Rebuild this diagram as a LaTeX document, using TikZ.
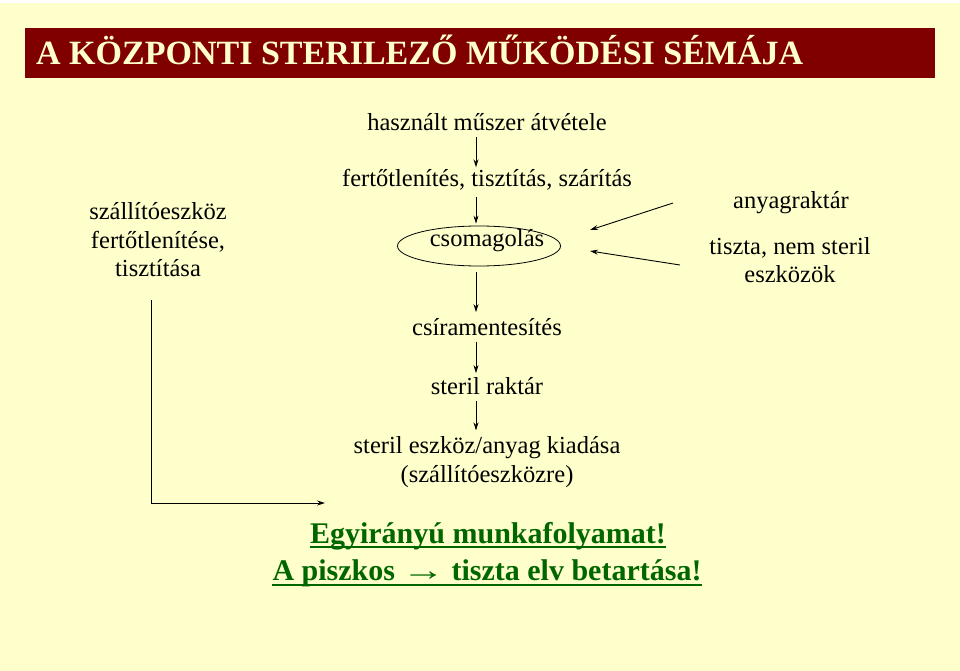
\documentclass[tikz,border=0pt]{standalone}
\usepackage{graphicx}
\usepackage{fontspec}
\setmainfont{Liberation Serif}
\usetikzlibrary{arrows.meta,shapes.geometric,calc}
\definecolor{bg}{HTML}{FFFFCC}
\definecolor{barred}{HTML}{800000}
\definecolor{grn}{HTML}{006600}
\begin{document}
\begin{tikzpicture}[x=1pt,y=-1pt,
  txt/.style={font=\fontsize{24.5}{28.5}\selectfont, inner sep=0pt, align=center},
  gtxt/.style={font=\bfseries\fontsize{30}{36}\selectfont, text=grn, inner sep=0pt, anchor=base, text height=20pt, text depth=6pt},
  arr/.style={-{Stealth[length=8pt,width=5pt]}, line width=0.9pt},
  uline/.style={grn, line width=2pt}]
\fill[bg] (0,0) rectangle (960,671);
\useasboundingbox (0,0) rectangle (960,671);
\fill[white] (0,0) rectangle (960,3);
% title bar
\node[fill=barred, minimum width=910pt, minimum height=50pt, anchor=north west, inner sep=0pt] (bar) at (25,28) {};
\node[anchor=base west, inner sep=0pt, text=bg, font=\bfseries\fontsize{34}{40}\selectfont] (title) at (36,65) {A KÖZPONTI STERILEZŐ MŰKÖDÉSI SÉMÁJA};
% main column
\coordinate (ax) at (476,0);
\node[txt] (n1) at (487,122) {használt műszer átvétele};
\node[txt] (n2) at (487,180) {fertőtlenítés, tisztítás, szárítás};
\node[draw, ellipse, line width=0.8pt, minimum width=163pt, minimum height=40pt] (pack) at (479,246) {};
\node[txt] (packtxt) at (487,241) {csomagolás};
\node[txt] (n4) at (487,327) {csíramentesítés};
\node[txt] (n5) at (487,386) {steril raktár};
\node[txt] (n6) at (487,462) {steril eszköz/anyag kiadása\\(szállítóeszközre)};
\draw[arr, shorten <=6pt, shorten >=2pt] (n1.south -| ax) -- (n2.north -| ax);
\draw[arr, shorten <=6pt, shorten >=2pt] (n2.south -| ax) -- (pack.north -| ax);
\draw[arr, shorten <=6pt, shorten >=6pt] (pack.south -| ax) -- (n4.north -| ax);
\draw[arr, shorten <=6pt, shorten >=4pt] (n4.south -| ax) -- (n5.north -| ax);
\draw[arr, shorten <=6pt, shorten >=6pt] (n5.south -| ax) -- (n6.north -| ax);
% left
\node[txt] (left) at (158,240) {szállítóeszköz\\fertőtlenítése,\\tisztítása};
\coordinate (l1) at (151,300);
\coordinate (l2) at (151,503);
\coordinate (l3) at (325,503);
\draw[arr] (l1) -- (l2) -- (l3);
% right
\node[txt] (anya) at (791,203) {anyagraktár};
\node[txt] (tiszta) at (790,260) {tiszta, nem steril\\eszközök};
\coordinate (r1s) at (673,203);
\coordinate (r1e) at (590,230);
\coordinate (r2s) at (680,265);
\coordinate (r2e) at (590,251);
\draw[arr] (r1s) -- (r1e);
\draw[arr] (r2s) -- (r2e);
% green
\node[gtxt] (g1) at (488,543) {Egyirányú munkafolyamat!};
\node[gtxt] (g2) at (487,580) {A piszkos\kern-1pt{} {\mdseries\scalebox{1.45}[1]{→}}\kern-1pt{} tiszta elv betartása!};
\draw[uline] ($(g1.base west)+(0,4)$) -- ($(g1.base east)+(0,4)$);
\draw[uline] ($(g2.base west)+(0,5)$) -- ($(g2.base east)+(0,5)$);
\end{tikzpicture}
\end{document}
